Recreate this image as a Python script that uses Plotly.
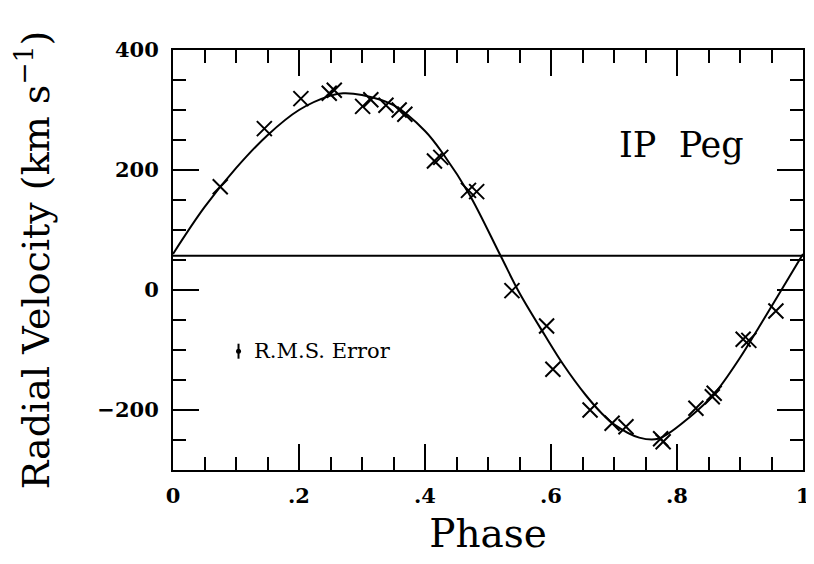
import plotly.graph_objects as go

# Observed radial velocities (phase, km/s)
obs_phase = [0.075, 0.145, 0.203, 0.248, 0.256, 0.301, 0.314, 0.338, 0.359, 0.368,
             0.415, 0.425, 0.469, 0.482, 0.538, 0.593, 0.603, 0.662, 0.697, 0.719,
             0.774, 0.778, 0.830, 0.856, 0.859, 0.905, 0.914, 0.957]
obs_rv = [172, 269, 319, 328, 333, 306, 317, 308, 300, 293,
          215, 221, 166, 164, -1, -60, -132, -200, -222, -228,
          -248, -253, -197, -178, -172, -82, -84, -35]

# Fitted orbit curve
fit_phase = [0, 0.05, 0.1, 0.15, 0.2, 0.25, 0.27, 0.3, 0.35, 0.4, 0.43, 0.47, 0.52,
             0.55, 0.59, 0.62, 0.655, 0.68, 0.70, 0.74, 0.77, 0.82, 0.86, 0.90,
             0.93, 0.96, 1.0]
fit_rv = [60, 138, 203, 258, 300, 324, 328, 325, 308, 265, 225, 160, 57,
          -5, -75, -125, -175, -205, -224, -246, -248, -212, -172, -113,
          -62, -10, 60]

# Systemic velocity line
gamma_phase = [0, 1]
gamma_rv = [57, 57]

# R.M.S. error indicator
rms_phase = [0.104]
rms_rv = [-102]
rms_err = [12.5]

x_tickvals = [0, 0.2, 0.4, 0.6, 0.8, 1]
x_ticktext = ["0", ".2", ".4", ".6", ".8", "1"]
y_tickvals = [-200, 0, 200, 400]
y_ticktext = ["\u2212200", "0", "200", "400"]

FONT = "DejaVu Serif"

fig = go.Figure()
fig.add_trace(go.Scatter(x=gamma_phase, y=gamma_rv, mode="lines",
                         line=dict(color="black", width=2), showlegend=False))
fig.add_trace(go.Scatter(x=fit_phase, y=fit_rv, mode="lines",
                         line=dict(color="black", width=2, shape="spline", smoothing=1.0),
                         showlegend=False))
fig.add_trace(go.Scatter(x=obs_phase, y=obs_rv, mode="markers",
                         marker=dict(symbol="x-thin-open", size=15, color="black",
                                     line=dict(color="black", width=2)),
                         showlegend=False))
fig.add_trace(go.Scatter(x=rms_phase, y=rms_rv, mode="markers",
                         marker=dict(symbol="circle", size=5, color="black"),
                         error_y=dict(type="data", array=rms_err, color="black",
                                      thickness=2, width=0),
                         showlegend=False))

fig.add_annotation(x=0.125, y=-102, xref="x", yref="y", text="R.M.S. Error",
                   showarrow=False, xanchor="left", yanchor="middle",
                   font=dict(family=FONT, size=21, color="black"))
fig.add_annotation(x=0.705, y=241, xref="x", yref="y", text="IP\u00a0\u00a0Peg",
                   showarrow=False, xanchor="left", yanchor="middle",
                   font=dict(family=FONT, size=35, color="black"))

axis_common = dict(showgrid=False, zeroline=False, showline=True, linecolor="black",
                   linewidth=2, mirror="ticks", ticks="inside", ticklen=26,
                   tickwidth=1.5, tickcolor="black",
                   tickfont=dict(family=FONT, size=21, color="black", weight="bold"))

fig.update_xaxes(range=[0, 1], tickvals=x_tickvals, ticktext=x_ticktext,
                 minor=dict(dtick=0.05, ticks="inside", ticklen=13, tickwidth=1.5,
                            tickcolor="black"),
                 title=dict(text="Phase", font=dict(family=FONT, size=39, color="black"),
                            standoff=12),
                 ticklabelstandoff=6, **axis_common)
fig.update_yaxes(range=[-300, 400], tickvals=y_tickvals, ticktext=y_ticktext,
                 minor=dict(dtick=50, ticks="inside", ticklen=13, tickwidth=1.5,
                            tickcolor="black"),
                 title=dict(text="Radial Velocity (km s<sup>\u22121</sup>)",
                            font=dict(family=FONT, size=38, color="black"),
                            standoff=42),
                 ticklabelstandoff=8, **axis_common)

fig.update_layout(width=806, height=556, plot_bgcolor="white", paper_bgcolor="white",
                  margin=dict(l=165, r=11, t=42, b=94, autoexpand=False))

fig.write_html("out.html")
